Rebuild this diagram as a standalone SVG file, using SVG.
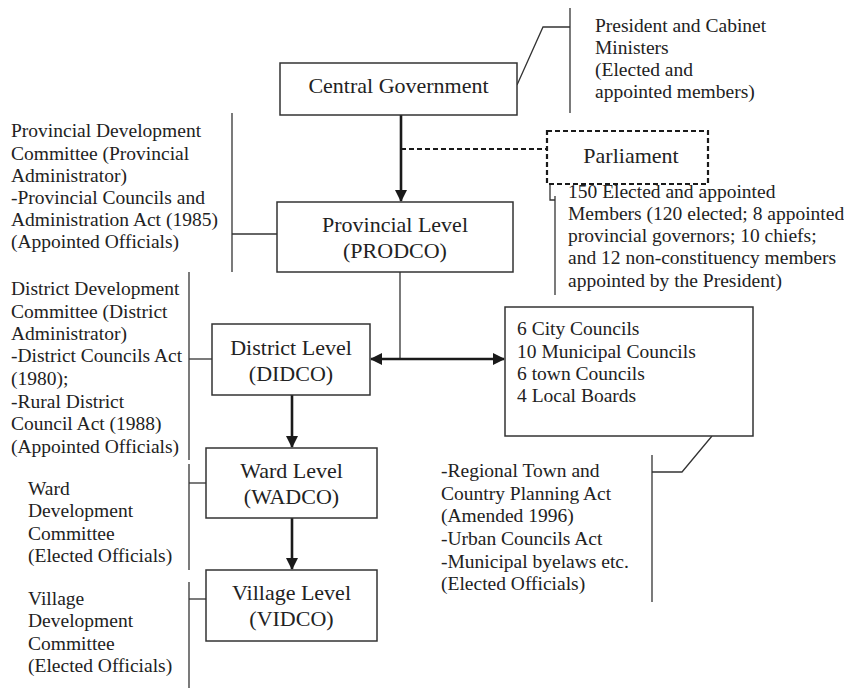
<svg xmlns="http://www.w3.org/2000/svg" width="844" height="689" viewBox="0 0 844 689">
<defs>
<marker id="ah" viewBox="0 0 12 12" refX="11" refY="6" markerWidth="12" markerHeight="12" markerUnits="userSpaceOnUse" orient="auto-start-reverse">
<path d="M0,0 L12,6 L0,12 z" fill="#1a1a1a"/>
</marker>
<style>
text{font-family:"Liberation Serif","Times New Roman",serif;fill:#222}
.lbl{font-size:22px;text-anchor:middle}
.note{font-size:19.5px}
.box{fill:#fff;stroke:#333;stroke-width:1.5}
.dash{fill:#fff;stroke:#1a1a1a;stroke-width:2.2;stroke-dasharray:5,3}
.thin{fill:none;stroke:#333;stroke-width:1.3}
.thick{fill:none;stroke:#1a1a1a;stroke-width:2.6}
</style>
</defs>
<g id="connectors">
<line class="thick" x1="401" y1="115" x2="401" y2="201" marker-end="url(#ah)"/>
<line x1="401" y1="149" x2="547" y2="149" stroke="#1a1a1a" stroke-width="2" stroke-dasharray="5,3"/>
<line class="thin" x1="400" y1="272" x2="400" y2="359"/>
<line class="thick" x1="371" y1="359" x2="504" y2="359" marker-start="url(#ah)" marker-end="url(#ah)"/>
<line class="thick" x1="292" y1="395" x2="292" y2="447" marker-end="url(#ah)"/>
<line class="thick" x1="292" y1="518" x2="292" y2="569" marker-end="url(#ah)"/>
<path class="thin" d="M517,85 L543,27 H570"/>
<line class="thin" x1="570" y1="8" x2="570" y2="113"/>
<path class="thin" d="M550,184 V200 H555"/>
<line class="thin" x1="555" y1="196" x2="555" y2="295"/>
<line class="thin" x1="232" y1="113" x2="232" y2="272"/>
<line class="thin" x1="232" y1="234" x2="277" y2="234"/>
<line class="thin" x1="189" y1="272" x2="189" y2="460"/>
<line class="thin" x1="189" y1="359" x2="212" y2="359"/>
<line class="thin" x1="189" y1="464" x2="189" y2="570"/>
<line class="thin" x1="189" y1="483" x2="206" y2="483"/>
<line class="thin" x1="189" y1="582" x2="189" y2="688"/>
<line class="thin" x1="189" y1="599" x2="206" y2="599"/>
<path class="thin" d="M712,436 L682,472 H652"/>
<line class="thin" x1="652" y1="455" x2="652" y2="602"/>
</g>
<g id="central">
<rect class="box" x="280" y="63" width="237" height="52"/>
<text class="lbl" x="398.5" y="93">Central Government</text>
</g>
<g id="parliament">
<rect class="dash" x="547" y="131" width="161" height="53"/>
<text class="lbl" x="631" y="163">Parliament</text>
</g>
<g id="provincial">
<rect class="box" x="277" y="202" width="236" height="70"/>
<text class="lbl" x="395" y="232">Provincial Level</text>
<text class="lbl" x="395" y="258">(PRODCO)</text>
</g>
<g id="district">
<rect class="box" x="212" y="324" width="158" height="71"/>
<text class="lbl" x="291" y="355">District Level</text>
<text class="lbl" x="291" y="381">(DIDCO)</text>
</g>
<g id="councils">
<rect class="box" x="505" y="307" width="248" height="129"/>
<text class="note" x="517" y="335">6 City Councils</text>
<text class="note" x="517" y="358">10 Municipal Councils</text>
<text class="note" x="517" y="380">6 town Councils</text>
<text class="note" x="517" y="402">4 Local Boards</text>
</g>
<g id="ward">
<rect class="box" x="206" y="448" width="171" height="70"/>
<text class="lbl" x="291.5" y="478">Ward Level</text>
<text class="lbl" x="291.5" y="504">(WADCO)</text>
</g>
<g id="village">
<rect class="box" x="206" y="570" width="171" height="71"/>
<text class="lbl" x="291.5" y="600">Village Level</text>
<text class="lbl" x="291.5" y="626">(VIDCO)</text>
</g>
<g id="note-president">
<text class="note" x="595" y="32">President and Cabinet</text>
<text class="note" x="595" y="54">Ministers</text>
<text class="note" x="595" y="76">(Elected and</text>
<text class="note" x="595" y="98">appointed members)</text>
</g>
<g id="note-parliament">
<text class="note" x="568" y="198">150 Elected and appointed</text>
<text class="note" x="568" y="220">Members (120 elected; 8 appointed</text>
<text class="note" x="568" y="242">provincial governors; 10 chiefs;</text>
<text class="note" x="568" y="264">and 12 non-constituency members</text>
<text class="note" x="568" y="287">appointed by the President)</text>
</g>
<g id="note-provincial">
<text class="note" x="11" y="137">Provincial Development</text>
<text class="note" x="11" y="160">Committee (Provincial</text>
<text class="note" x="11" y="182">Administrator)</text>
<text class="note" x="11" y="204">-Provincial Councils and</text>
<text class="note" x="11" y="226">Administration Act (1985)</text>
<text class="note" x="11" y="248">(Appointed Officials)</text>
</g>
<g id="note-district">
<text class="note" x="11" y="295">District Development</text>
<text class="note" x="11" y="318">Committee (District</text>
<text class="note" x="11" y="340">Administrator)</text>
<text class="note" x="11" y="362">-District Councils Act</text>
<text class="note" x="11" y="385">(1980);</text>
<text class="note" x="11" y="408">-Rural District</text>
<text class="note" x="11" y="430">Council Act (1988)</text>
<text class="note" x="11" y="453">(Appointed Officials)</text>
</g>
<g id="note-ward">
<text class="note" x="28" y="495">Ward</text>
<text class="note" x="28" y="517">Development</text>
<text class="note" x="28" y="540">Committee</text>
<text class="note" x="28" y="562">(Elected Officials)</text>
</g>
<g id="note-village">
<text class="note" x="28" y="605">Village</text>
<text class="note" x="28" y="627">Development</text>
<text class="note" x="28" y="650">Committee</text>
<text class="note" x="28" y="672">(Elected Officials)</text>
</g>
<g id="note-urban">
<text class="note" x="441" y="477">-Regional Town and</text>
<text class="note" x="441" y="500">Country Planning Act</text>
<text class="note" x="441" y="522">(Amended 1996)</text>
<text class="note" x="441" y="545">-Urban Councils Act</text>
<text class="note" x="441" y="568">-Municipal byelaws etc.</text>
<text class="note" x="441" y="590">(Elected Officials)</text>
</g>
</svg>
